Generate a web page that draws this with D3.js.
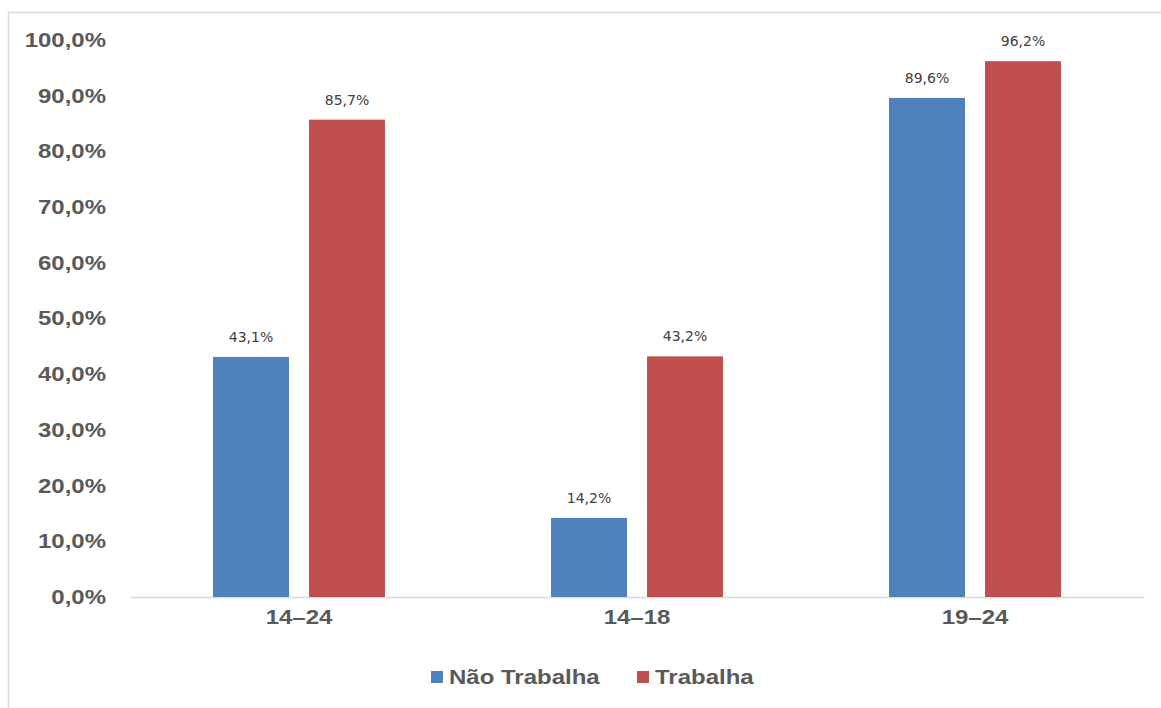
<!DOCTYPE html>
<html>
<head>
<meta charset="utf-8">
<script src="https://cdn.jsdelivr.net/npm/d3@7"></script>
<style>
  html, body { margin: 0; padding: 0; background: #fff; }
  svg { display: block; }
</style>
</head>
<body>
<svg id="chart" width="1161" height="708"></svg>
<script>
// Age groups and share per group, by work status
const categories = ["14–24", "14–18", "19–24"];
const seriesNames = ["Não Trabalha", "Trabalha"];
const naoTrabalha = [43.1, 14.2, 89.6];
const trabalha = [85.7, 43.2, 96.2];
const yTicks = [0, 10, 20, 30, 40, 50, 60, 70, 80, 90, 100];
const colors = ["#4F81BD", "#C0504D"];

const svg = d3.select("#chart");
const W = 1161, H = 708;
const plot = { left: 130, right: 1144, top: 40, bottom: 597 };
const labelFont = "Arial, 'Liberation Sans', sans-serif";
const stretch = "scale(1.2,1)";   // wide bold label face

// chart frame (top and left edges)
svg.append("path")
  .attr("d", `M8.5,${H} L8.5,12.5 L${W},12.5`)
  .attr("fill", "none").attr("stroke", "#d9d9d9").attr("stroke-width", 1.5);

const x0 = d3.scaleBand().domain(categories).range([plot.left, plot.right]).paddingInner(0).paddingOuter(0);
const y = d3.scaleLinear().domain([0, 100]).range([plot.bottom, plot.top]);

const barW = 76, gap = 20;
const x1 = d3.scaleOrdinal().domain(seriesNames).range([-(gap / 2) - barW, gap / 2]);

const fmt = v => d3.format(".1f")(v).replace(".", ",") + "%";

// y axis labels
const yAxis = d3.axisLeft(y).tickValues(yTicks).tickSize(0).tickPadding(0).tickFormat(fmt);
const yg = svg.append("g").attr("transform", `translate(106,0)`).call(yAxis);
yg.select(".domain").remove();
yg.selectAll("text")
  .attr("font-family", labelFont)
  .attr("font-size", 20).attr("font-weight", "bold").attr("fill", "#595959")
  .attr("transform", stretch);

// x baseline and category labels
const xAxis = d3.axisBottom(x0).tickSize(0).tickPadding(13);
const xg = svg.append("g").attr("transform", `translate(0,${plot.bottom})`).call(xAxis);
xg.select(".domain").attr("stroke", "#d9d9d9").attr("stroke-width", 1.5);
xg.selectAll("text")
  .attr("font-family", labelFont)
  .attr("font-size", 20).attr("font-weight", "bold").attr("fill", "#595959")
  .attr("transform", stretch);

// bars
const rows = categories.map((c, i) => ({ cat: c, vals: [naoTrabalha[i], trabalha[i]] }));
const groups = svg.append("g").selectAll("g").data(rows).join("g")
  .attr("transform", d => `translate(${x0(d.cat) + x0.bandwidth() / 2},0)`);

groups.selectAll("rect")
  .data(d => d.vals.map((v, j) => ({ name: seriesNames[j], v, j })))
  .join("rect")
  .attr("x", d => x1(d.name))
  .attr("y", d => y(d.v))
  .attr("width", barW)
  .attr("height", d => y(0) - y(d.v))
  .attr("fill", d => colors[d.j]);

groups.selectAll("text.lbl")
  .data(d => d.vals.map((v, j) => ({ name: seriesNames[j], v, j })))
  .join("text").attr("class", "lbl")
  .attr("x", d => x1(d.name) + barW / 2)
  .attr("y", d => y(d.v) - 15)
  .attr("text-anchor", "middle")
  .attr("font-family", "'DejaVu Sans', sans-serif")
  .attr("font-size", 14).attr("fill", "#404040")
  .text(d => fmt(d.v));

// legend
const legend = svg.append("g").attr("transform", "translate(431,677)");
const legX = [0, 206];
seriesNames.forEach((n, i) => {
  const g = legend.append("g").attr("transform", `translate(${legX[i]},0)`);
  g.append("rect").attr("x", 0).attr("y", -6).attr("width", 12).attr("height", 12).attr("fill", colors[i]);
  g.append("g").attr("transform", "translate(18,0)")
    .append("text").attr("x", 0).attr("y", 0).attr("dy", "0.36em")
    .attr("font-family", labelFont)
    .attr("font-size", 20).attr("font-weight", "bold").attr("fill", "#595959")
    .attr("transform", stretch)
    .text(n);
});
</script>
</body>
</html>
